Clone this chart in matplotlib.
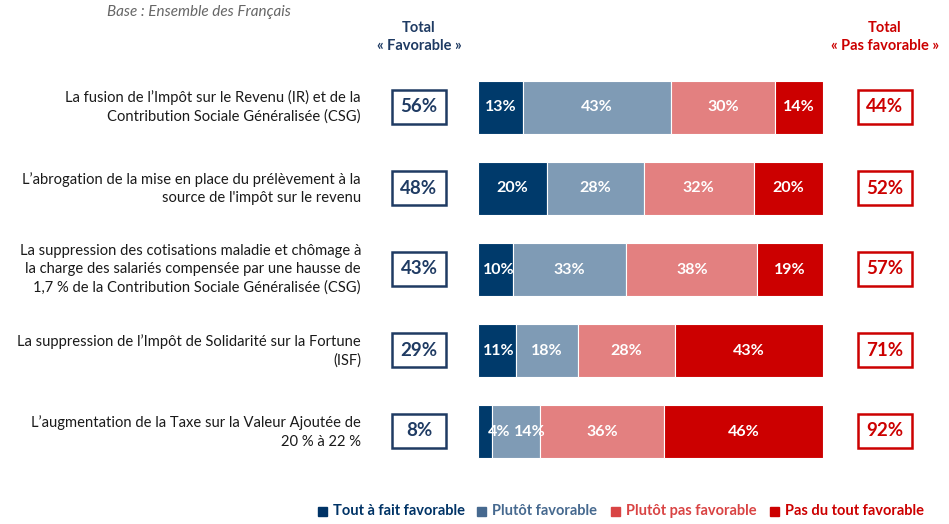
import matplotlib
matplotlib.use("Agg")
import matplotlib.pyplot as plt
from matplotlib.patches import Rectangle

plt.rcParams['font.family'] = ['Lato', 'DejaVu Sans']

# Data
items = [
    "La fusion de l\u2019Impôt sur le Revenu (IR) et de la\nContribution Sociale Généralisée (CSG)",
    "L\u2019abrogation de la mise en place du prélèvement à la\nsource de l'impôt sur le revenu",
    "La suppression des cotisations maladie et chômage à\nla charge des salariés compensée par une hausse de\n1,7 % de la Contribution Sociale Généralisée (CSG)",
    "La suppression de l\u2019Impôt de Solidarité sur la Fortune\n(ISF)",
    "L\u2019augmentation de la Taxe sur la Valeur Ajoutée de\n20 % à 22 %",
]
tout_fait = [13, 20, 10, 11, 4]
plutot_fav = [43, 28, 33, 18, 14]
plutot_pas = [30, 32, 38, 28, 36]
pas_du_tout = [14, 20, 19, 43, 46]
total_fav = [56, 48, 43, 29, 8]
total_pas = [44, 52, 57, 71, 92]
series_names = ["Tout à fait favorable", "Plutôt favorable",
                "Plutôt pas favorable", "Pas du tout favorable"]

bar_colors = ["#003a6b", "#7f9bb5", "#e38080", "#cc0000"]
legend_colors = ["#003366", "#46698f", "#d94444", "#cc0000"]
navy = "#1f3b63"
red = "#cc0000"

W, H = 949, 524
fig = plt.figure(figsize=(W / 100, H / 100), dpi=100)

def fx(px):
    return px / W

def fy(py):
    return 1 - py / H

# axes: x 0..100 -> pixels 478..823, rows centred at 107 + 81*i
top, bottom = 66.5, 472.5
ax = fig.add_axes([fx(478), fy(bottom), fx(823) - fx(478), (bottom - top) / H])
ax.set_xlim(0, 100)
ax.set_ylim(len(items), 0)
ax.axis("off")

data = [tout_fait, plutot_fav, plutot_pas, pas_du_tout]
ys = [i + 0.5 for i in range(len(items))]
left = [0] * len(items)
for vals, col in zip(data, bar_colors):
    ax.barh(ys, vals, left=left, height=0.655, color=col, edgecolor="white", linewidth=0.8)
    left = [l + v for l, v in zip(left, vals)]

# value labels, nudged right when segments are too narrow
for i, y in enumerate(ys):
    start = 0
    prev = None
    for vals in data:
        v = vals[i]
        x = max(start + v / 2, 6.0)
        if prev is not None and x - prev < 8.9:
            x = prev + 8.9
        ax.text(x, y, f"{v}%", ha="center", va="center", color="white",
                fontsize=11.5, fontweight="bold")
        prev = x
        start += v

# item labels, right edge at pixel 361
for lab, y in zip(items, ys):
    ax.text((361 - 478) / 3.45, y, lab, ha="right", va="center",
            fontsize=10.6, color="#1a1a1a", linespacing=1.4, clip_on=False)

# total boxes
for i in range(len(items)):
    py = 107 + 81 * i
    fig.patches.append(Rectangle((fx(392), fy(py + 17)), fx(54), 34 / H,
                                 transform=fig.transFigure, fill=False,
                                 edgecolor=navy, linewidth=1.8))
    fig.text(fx(419), fy(py), f"{total_fav[i]}%", ha="center", va="center",
             color=navy, fontsize=13.5, fontweight="bold")
    fig.patches.append(Rectangle((fx(858), fy(py + 17)), fx(54), 34 / H,
                                 transform=fig.transFigure, fill=False,
                                 edgecolor=red, linewidth=1.8))
    fig.text(fx(885), fy(py), f"{total_pas[i]}%", ha="center", va="center",
             color=red, fontsize=13.5, fontweight="bold")

# headers
fig.text(fx(419), fy(37), "Total\n\u00ab Favorable \u00bb", ha="center", va="center",
         color=navy, fontsize=10.5, fontweight="bold", linespacing=1.35)
fig.text(fx(885), fy(37), "Total\n\u00ab Pas favorable \u00bb", ha="center", va="center",
         color=red, fontsize=10.5, fontweight="bold", linespacing=1.35)
fig.text(fx(107), fy(12), "Base : Ensemble des Français", ha="left", va="center",
         color="#666666", fontsize=11, style="italic")

# legend
leg_x = [318, 477, 611, 770]
for x, name, col in zip(leg_x, series_names, legend_colors):
    fig.patches.append(Rectangle((fx(x), fy(516)), fx(9), 9 / H,
                                 transform=fig.transFigure, color=col))
    fig.text(fx(x + 15), fy(511), name, ha="left", va="center", color=col,
             fontsize=10.5, fontweight="bold")

fig.savefig("out.png", dpi=100, facecolor="white")
